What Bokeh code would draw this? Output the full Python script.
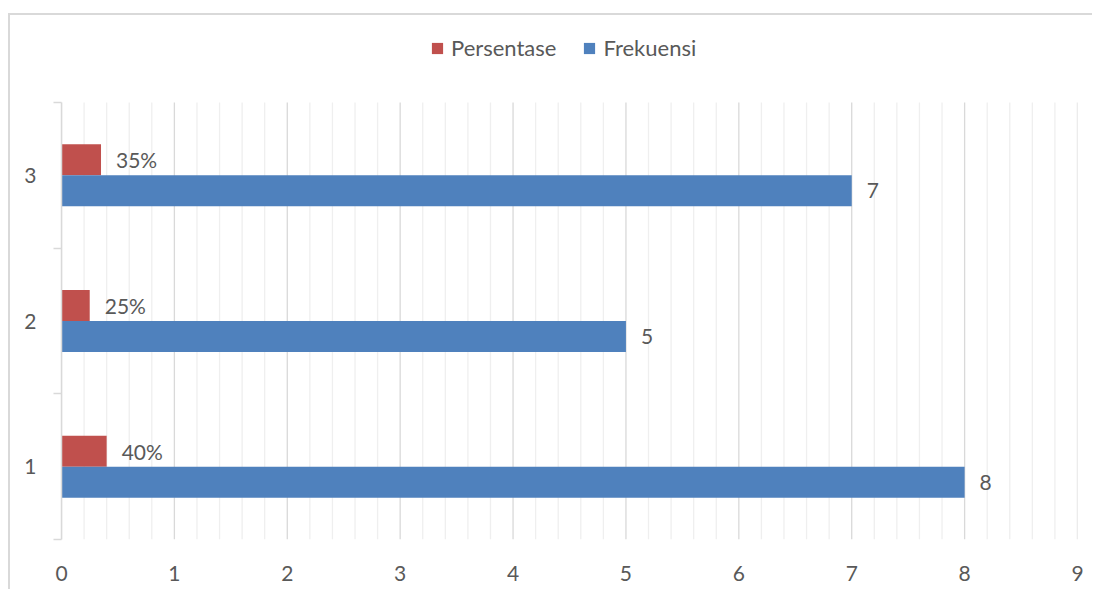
from bokeh.plotting import figure
from bokeh.models import (Range1d, FixedTicker, Legend, LegendItem, ColumnDataSource)
from bokeh.transform import dodge
from bokeh.core.properties import value
from bokeh.embed import file_html
from bokeh.resources import INLINE

# ---- data ----
categories = [1, 2, 3]
frekuensi = [8, 5, 7]
persentase = [0.40, 0.25, 0.35]
persen_labels = ["40%", "25%", "35%"]
frek_labels = ["8", "5", "7"]
y_tick_labels = ["1", "2", "3"]
x_ticks = [0, 1, 2, 3, 4, 5, 6, 7, 8, 9]
series_names = ["Persentase", "Frekuensi"]

RED = "#C0504D"
BLUE = "#4F81BD"
TXT = "#595959"
FONT = "Lato"
FS = "21px"

# ---- geometry ----
W, H = 1084, 576
MB_BOTTOM = 52
Y0, Y1 = 0.5, 3.5            # category band range
TOP_GAP_PX = 87              # space above the plot area (legend zone)
frame_h = H - MB_BOTTOM
px_per_unit = (frame_h - TOP_GAP_PX) / (Y1 - Y0)
y_end = Y1 + TOP_GAP_PX / px_per_unit

src = ColumnDataSource(dict(cat=categories, frek=frekuensi, pers=persentase,
                            plab=persen_labels, flab=frek_labels))

p = figure(width=W, height=H, output_backend="svg", toolbar_location=None,
           x_range=Range1d(x_ticks[0], x_ticks[-1]), y_range=Range1d(Y0, y_end),
           min_border_left=51, min_border_right=17, min_border_top=0,
           min_border_bottom=MB_BOTTOM, margin=(13, 0, 0, 8))
p.styles = {"border-left": "2px solid #d9d9d9", "border-top": "2px solid #d9d9d9"}
p.outline_line_color = None
p.background_fill_color = "white"
p.border_fill_color = "white"
p.grid.visible = False

# gridlines limited to the plot area
minor_x = [x_ticks[i] + k / 5 for i in range(len(x_ticks) - 1) for k in range(1, 5)]
p.segment(x0=minor_x, x1=minor_x, y0=[Y0] * len(minor_x), y1=[Y1] * len(minor_x),
          line_color="#efefef", line_width=1.3)
p.segment(x0=x_ticks, x1=x_ticks, y0=[Y0] * len(x_ticks), y1=[Y1] * len(x_ticks),
          line_color="#d9d9d9", line_width=1.3)

off = 0.1065
hh = 0.213
r_red = p.hbar(y=dodge("cat", off, range=p.y_range), right="pers", left=0,
               height=hh, source=src, fill_color=RED, line_color=None)
r_blue = p.hbar(y=dodge("cat", -off, range=p.y_range), right="frek", left=0,
                height=hh, source=src, fill_color=BLUE, line_color=None)

p.text(x="pers", y=dodge("cat", off, range=p.y_range), text="plab", source=src,
       x_offset=15, text_align="left", text_baseline="middle",
       text_font=value(FONT), text_font_size=FS, text_color=TXT)
p.text(x="frek", y=dodge("cat", -off, range=p.y_range), text="flab", source=src,
       x_offset=15, text_align="left", text_baseline="middle",
       text_font=value(FONT), text_font_size=FS, text_color=TXT)

# x axis
p.xaxis.ticker = FixedTicker(ticks=x_ticks)
p.xaxis.axis_line_color = None
p.xaxis.major_tick_line_color = None
p.xaxis.minor_tick_line_color = None
p.xaxis.major_tick_out = 0
p.xaxis.major_label_standoff = 26
p.xaxis.major_label_text_font = FONT
p.xaxis.major_label_text_font_size = FS
p.xaxis.major_label_text_color = TXT

# y axis
p.yaxis.ticker = FixedTicker(ticks=categories, minor_ticks=[0.5, 1.5, 2.5, 3.5])
p.yaxis.bounds = (Y0, Y1)
p.yaxis.major_label_overrides = {c: l for c, l in zip(categories, y_tick_labels)}
p.yaxis.axis_line_color = "#d9d9d9"
p.yaxis.axis_line_width = 1.5
p.yaxis.major_tick_line_color = None
p.yaxis.major_tick_out = 0
p.yaxis.major_tick_in = 0
p.yaxis.minor_tick_in = 0
p.yaxis.minor_tick_out = 8
p.yaxis.minor_tick_line_color = "#d9d9d9"
p.yaxis.minor_tick_line_width = 1.5
p.yaxis.major_label_standoff = 17
p.yaxis.major_label_text_font = FONT
p.yaxis.major_label_text_font_size = FS
p.yaxis.major_label_text_color = TXT

legend = Legend(items=[LegendItem(label=series_names[0], renderers=[r_red]),
                       LegendItem(label=series_names[1], renderers=[r_blue])],
                orientation="horizontal", location=(369, 478),
                glyph_width=14, glyph_height=14, label_standoff=7, spacing=26,
                padding=0, margin=0, label_height=24,
                label_text_font=FONT, label_text_font_size="22px",
                label_text_color=TXT, border_line_color=None,
                background_fill_alpha=0)
p.add_layout(legend, "center")

open("out.html", "w").write(file_html(p, INLINE))
